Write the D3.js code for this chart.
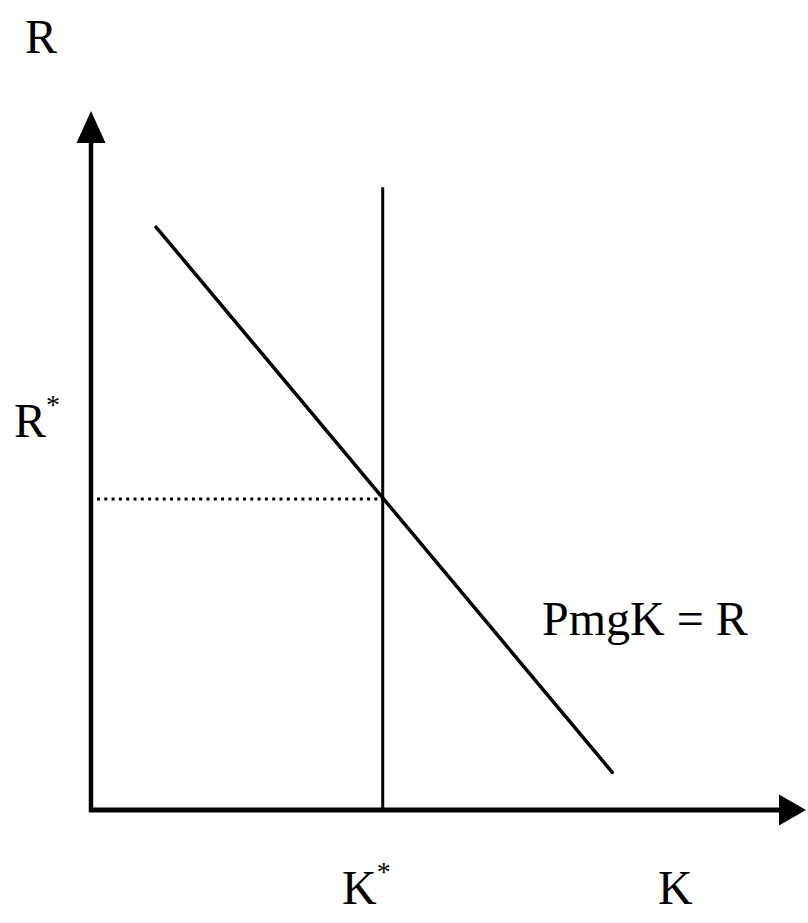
<!DOCTYPE html>
<html>
<head>
<meta charset="utf-8">
<script src="https://cdn.jsdelivr.net/npm/d3@7/dist/d3.min.js"></script>
<style>
  html, body { margin: 0; padding: 0; background: #fff; }
</style>
</head>
<body>
<svg id="chart"></svg>
<script>
"use strict";

// ---- data (schematic units, 0..100 on both axes) ----
const axisMax = [100, 100];            // arrow tips (K, R)
const curveK = [9.1, 72.9];            // PmgK = R line, K values
const curveR = [83.4, 5.4];            // PmgK = R line, R values
const kStar = [40.8];                  // vertical line at K*
const kStarTop = [89.1];               // top of that line (R units)
const rStar = [44.5];                  // equilibrium R*
const axisLabels = ["R", "K"];
const starLabels = ["R", "K"];
const curveLabel = ["PmgK = R"];

const FONT = "'Liberation Serif', 'DejaVu Serif', serif";

// ---- svg setup ----
const W = 808, H = 923;
const svg = d3.select("#chart").attr("width", W).attr("height", H);

const x = d3.scaleLinear().domain([0, axisMax[0]]).range([91, 806]);
const y = d3.scaleLinear().domain([0, axisMax[1]]).range([810, 111]);

const arrowLen = 32, arrowHalf = 14.5;

// ---- axes with arrowheads ----
svg.append("line")
  .attr("x1", x(0)).attr("y1", y(0) + 2)
  .attr("x2", x(0)).attr("y2", y(axisMax[1]) + arrowLen - 1)
  .attr("stroke", "#000").attr("stroke-width", 4.5);

svg.append("path")
  .attr("d", `M${x(0)},${y(axisMax[1])} L${x(0) - arrowHalf},${y(axisMax[1]) + arrowLen} L${x(0) + arrowHalf},${y(axisMax[1]) + arrowLen} Z`)
  .attr("fill", "#000");

svg.append("line")
  .attr("x1", x(0) - 2).attr("y1", y(0))
  .attr("x2", x(axisMax[0]) - arrowLen + 6).attr("y2", y(0))
  .attr("stroke", "#000").attr("stroke-width", 5);

svg.append("path")
  .attr("d", `M${x(axisMax[0])},${y(0)} L${x(axisMax[0]) - 27},${y(0) - 15.5} L${x(axisMax[0]) - 27},${y(0) + 15.5} Z`)
  .attr("fill", "#000");

// ---- vertical line at K* ----
svg.append("line")
  .attr("x1", x(kStar[0])).attr("y1", y(kStarTop[0]))
  .attr("x2", x(kStar[0])).attr("y2", y(0))
  .attr("stroke", "#000").attr("stroke-width", 3);

// ---- dotted line at R* ----
svg.append("line")
  .attr("x1", x(0) + 6).attr("y1", y(rStar[0]))
  .attr("x2", x(kStar[0])).attr("y2", y(rStar[0]))
  .attr("stroke", "#000").attr("stroke-width", 3)
  .attr("stroke-dasharray", "3,4.3");

// ---- PmgK = R line ----
const line = d3.line().x(d => x(d[0])).y(d => y(d[1]));
svg.append("path")
  .attr("d", line(d3.zip(curveK, curveR)))
  .attr("fill", "none").attr("stroke", "#000")
  .attr("stroke-width", 3.5).attr("stroke-linecap", "round");

// ---- labels ----
function label(tx, ty, s) {
  return svg.append("text").attr("x", tx).attr("y", ty)
    .attr("font-family", FONT).attr("font-size", 48).attr("fill", "#000")
    .text(s);
}
label(25, 53, axisLabels[0]);
label(658, 904, axisLabels[1]);

// R* and K* with superscript asterisk
function starLabel(tx, ty, s) {
  const t = label(tx, ty, null);
  t.append("tspan").text(s);
  t.append("tspan").attr("dy", -23).attr("font-size", 28).text("*");
}
starLabel(14, 437, starLabels[0]);
starLabel(342, 904, starLabels[1]);

label(542, 635, curveLabel[0]);
</script>
</body>
</html>
